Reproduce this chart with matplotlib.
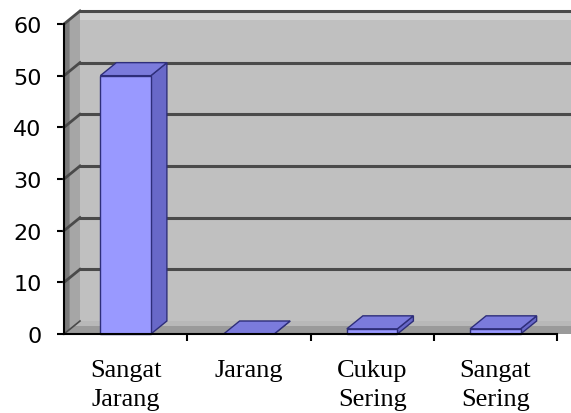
import matplotlib
matplotlib.use('Agg')
import matplotlib.pyplot as plt
from matplotlib.patches import Polygon

# data
categories = ['Sangat\nJarang', 'Jarang', 'Cukup\nSering', 'Sangat\nSering']
values = [50, 0, 1, 1]
yticks = [0, 10, 20, 30, 40, 50, 60]

W, H = 571, 414
fig = plt.figure(figsize=(W / 100, H / 100), dpi=100)

# axes placement: x=0 at px 64, one category = 123.25 px; y=0 at px 335 from top
px_x = 123.25
px_y = 5.167
left, bottom = 64, H - 335
ax = fig.add_axes([left / W, bottom / H, (W - left) / W, (H - 3 - bottom) / H])
ax.set_xlim(0, (W - left) / px_x)
ax.set_ylim(0, (H - 3 - bottom) / px_y)

dx = 16 / px_x   # depth offset
dy = 13 / px_y
top = 60
xend = 5.0

def poly(pts, fc, ec='none', lw=0, z=1):
    ax.add_patch(Polygon(pts, closed=True, facecolor=fc, edgecolor=ec,
                         linewidth=lw, zorder=z, clip_on=False))

# walls and floor
poly([(dx, dy), (xend, dy), (xend, top + dy), (dx, top + dy)], '#c0c0c0', z=1)
poly([(dx, top + dy - 1.8), (xend, top + dy - 1.8), (xend, top + dy), (dx, top + dy)], '#d2d2d2', z=1.1)
poly([(0, 0), (dx, dy), (dx, top + dy), (0, top)], '#a6a6a6', z=1)
poly([(0, 0), (dx * 0.35, dy * 0.35), (dx * 0.35, top + dy * 0.35), (0, top)], '#7a7a7a', z=1.1)
poly([(0, 0), (xend, 0), (xend, dy), (dx, dy)], '#9a9a9a', z=1.2)
poly([(dx * 0.6, dy * 0.6), (xend, dy * 0.6), (xend, dy), (dx, dy)], '#b8b8b8', z=1.3)

# gridlines on back and side wall
for v in yticks[1:]:
    ax.plot([dx, xend], [v + dy, v + dy], color='#4a4a4a', lw=2.2, zorder=2, clip_on=False)
    ax.plot([0, dx], [v, v + dy], color='#4a4a4a', lw=2.0, zorder=2, clip_on=False)
ax.plot([0, dx], [0, dy], color='#4a4a4a', lw=1.2, zorder=2, clip_on=False)

# 3d columns
w = 0.41
for i, v in enumerate(values):
    c = i + 0.5
    x0, x1 = c - w / 2, c + w / 2
    ec = '#2e2e7a'
    poly([(x1, 0), (x1 + dx, dy), (x1 + dx, v + dy), (x1, v)], '#6868c8', ec, 1.0, z=3)
    poly([(x0, v), (x1, v), (x1 + dx, v + dy), (x0 + dx, v + dy)], '#7b7bdc', ec, 1.0, z=3.1)
    if v > 0:
        poly([(x0, 0), (x1, 0), (x1, v), (x0, v)], '#9999ff', ec, 1.0, z=3.2)

# axes lines, ticks and labels
for s in ['top', 'right']:
    ax.spines[s].set_visible(False)
ax.spines['left'].set_bounds(0, 60)
ax.spines['bottom'].set_bounds(0, 4)
for s in ['left', 'bottom']:
    ax.spines[s].set_linewidth(1.5)
    ax.spines[s].set_color('black')
    ax.spines[s].set_zorder(5)

ax.set_yticks(yticks)
ax.set_yticklabels([str(t) for t in yticks], fontsize=16, family='DejaVu Sans')
ax.tick_params(axis='y', length=5, width=1.5, pad=11)

ax.set_xticks([i + 0.5 for i in range(len(categories))])
ax.set_xticklabels(categories, fontsize=19, family='Liberation Serif', linespacing=1.4)
ax.set_xticks([1, 2, 3, 4], minor=True)
ax.tick_params(axis='x', which='major', length=0, pad=18)
ax.tick_params(axis='x', which='minor', length=5, width=1.5)
ax.set_facecolor('none')

fig.savefig('out.png', dpi=100)
